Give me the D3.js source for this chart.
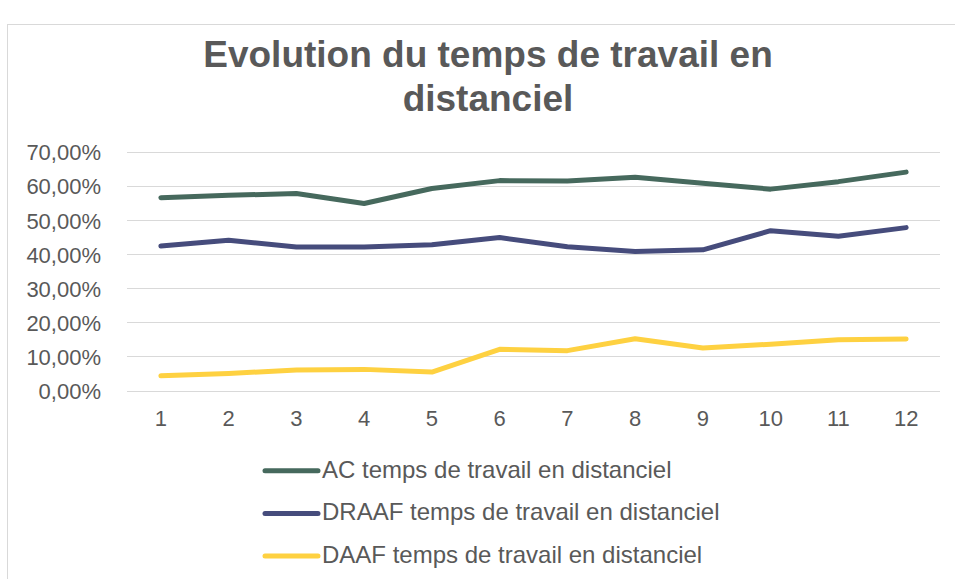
<!DOCTYPE html>
<html>
<head>
<meta charset="utf-8">
<script src="https://cdn.jsdelivr.net/npm/d3@7"></script>
<style>
  body { margin: 0; background: #fff; }
  text { font-family: "Liberation Sans", Arial, sans-serif; fill: #595959; }
</style>
</head>
<body>
<svg width="955" height="579"></svg>
<script>
var months = [1, 2, 3, 4, 5, 6, 7, 8, 9, 10, 11, 12];
var ac    = [56.6, 57.3, 57.8, 54.9, 59.3, 61.6, 61.5, 62.6, 60.8, 59.1, 61.3, 64.1];
var draaf = [42.4, 44.1, 42.1, 42.1, 42.8, 44.9, 42.2, 40.8, 41.3, 46.9, 45.3, 47.8];
var daaf  = [4.3, 5.0, 6.0, 6.2, 5.4, 12.1, 11.7, 15.2, 12.5, 13.6, 14.9, 15.1];
var seriesNames = ["AC temps de travail en distanciel",
                   "DRAAF temps de travail en distanciel",
                   "DAAF temps de travail en distanciel"];
var colors = ["#46695d", "#464c7c", "#fed141"];
var yTicks = [0, 10, 20, 30, 40, 50, 60, 70];

var svg = d3.select("svg");

// chart frame
svg.append("rect")
  .attr("x", 7.5).attr("y", 24.5)
  .attr("width", 960).attr("height", 600)
  .attr("fill", "none").attr("stroke", "#d9d9d9");

// title
var title = svg.append("text")
  .attr("text-anchor", "middle")
  .style("font-size", "37px").style("font-weight", "bold");
title.append("tspan").attr("x", 488).attr("y", 67).text("Evolution du temps de travail en");
title.append("tspan").attr("x", 488).attr("y", 111).text("distanciel");

var x = d3.scaleBand().domain(months).range([127, 940]);
var y = d3.scaleLinear().domain([0, 70]).range([390.5, 152]);

var fmt = function(d){ return d3.format(".2f")(d).replace(".", ",") + "%"; };

// gridlines
svg.append("g").selectAll("line")
  .data(yTicks).enter().append("line")
    .attr("x1", 127).attr("x2", 940)
    .attr("y1", d => Math.round(y(d)) + 0.5)
    .attr("y2", d => Math.round(y(d)) + 0.5)
    .attr("stroke", "#d9d9d9").attr("stroke-width", 1);

// y axis labels
var yAxis = svg.append("g")
  .attr("transform", "translate(127,0)")
  .call(d3.axisLeft(y).tickValues(yTicks).tickFormat(fmt).tickSize(0).tickPadding(26));
yAxis.select(".domain").remove();
yAxis.selectAll("text").style("font-size", "22px").attr("fill", "#595959").attr("dy", "0.36em");

// x axis labels
var xAxis = svg.append("g")
  .attr("transform", "translate(0,390.5)")
  .call(d3.axisBottom(x).tickSize(0).tickPadding(20));
xAxis.select(".domain").remove();
xAxis.selectAll("text").style("font-size", "22px").attr("fill", "#595959");

var line = d3.line()
  .x((d, i) => x(months[i]) + x.bandwidth() / 2)
  .y(d => y(d));

var allSeries = [ac, draaf, daaf];
svg.append("g").selectAll("path")
  .data(allSeries).enter().append("path")
    .attr("d", line)
    .attr("fill", "none")
    .attr("stroke", (d, i) => colors[i])
    .attr("stroke-width", 5)
    .attr("stroke-linecap", "round")
    .attr("stroke-linejoin", "round");

// legend
var legend = svg.append("g").selectAll("g")
  .data(seriesNames).enter().append("g")
    .attr("transform", (d, i) => "translate(0," + (470.7 + i * 42.7) + ")");
legend.append("line")
  .attr("x1", 265).attr("x2", 318)
  .attr("stroke", (d, i) => colors[i])
  .attr("stroke-width", 5).attr("stroke-linecap", "round");
legend.append("text")
  .attr("x", 322).attr("y", 7)
  .style("font-size", "24px")
  .text(d => d);
</script>
</body>
</html>
